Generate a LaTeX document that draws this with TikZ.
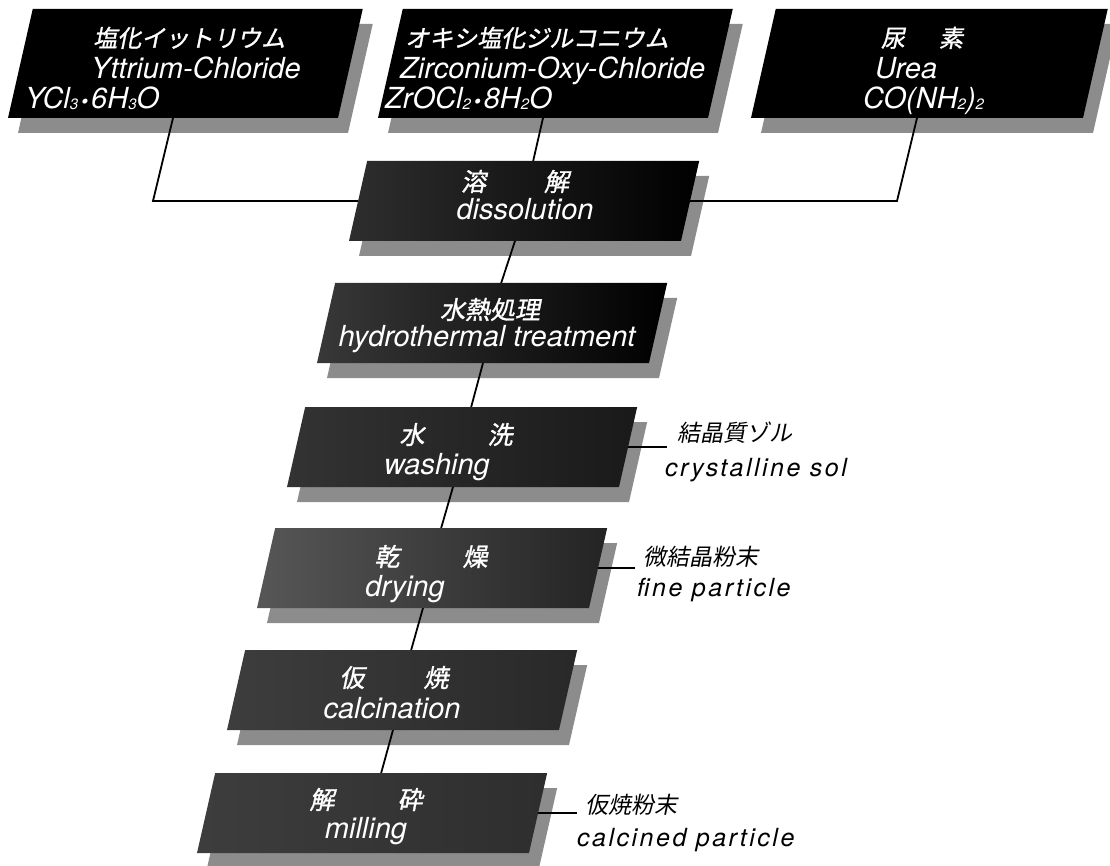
\documentclass[tikz,border=0pt]{standalone}
\usepackage{fontspec}
\setmainfont{TeX Gyre Heros}
\newfontfamily\jp[FakeSlant=0.2]{Noto Sans CJK JP}
\newfontfamily\jpb[FakeSlant=0.2,FakeBold=1.2]{Noto Sans CJK JP}
\newfontfamily\latsp[LetterSpace=10]{TeX Gyre Heros}
\newcommand\sbx[1]{\raisebox{-1pt}{\fontsize{15}{15}\selectfont #1}}
\newcommand\mdot{\hspace{3pt}{\fontsize{20}{20}\selectfont\textbullet}\hspace{3pt}}
\newcommand\defbox[5]{%
  \pgfmathsetmacro\slnt{0.227*#5}%
  \coordinate (#1-bl) at (#2,#3);
  \coordinate (#1-br) at (#2+#4,#3);
  \coordinate (#1-tr) at (#2+#4+\slnt,#3-#5);
  \coordinate (#1-tl) at (#2+\slnt,#3-#5);
  \coordinate (#1-b) at (#2+#4/2,#3);
  \coordinate (#1-t) at (#2+\slnt+#4/2,#3-#5);
  \coordinate (#1-l) at (#2+\slnt/2,#3-#5/2);
  \coordinate (#1-r) at (#2+#4+\slnt/2,#3-#5/2);
}
\begin{document}
\begin{tikzpicture}[x=1pt,y=-1pt,
  shadowc/.style={fill=black!45},
  conn/.style={draw=black, line width=1.8pt},
  lat/.style={font=\itshape\fontsize{29}{29}\selectfont, text=white, inner sep=0pt},
  jpt/.style={font=\jpb\fontsize{25}{25}\selectfont, text=white, inner sep=0pt},
  jtop/.style={font=\jpb\fontsize{24}{24}\selectfont, text=white, inner sep=0pt},
  slat/.style={font=\latsp\itshape\fontsize{25}{25}\selectfont, text=black, inner sep=0pt},
  sjp/.style={font=\jp\fontsize{23}{23}\selectfont, text=black, inner sep=0pt},
]
\useasboundingbox (0,0) rectangle (1110,866);

% box geometry (bottom-left x, bottom y, edge width, height)
\defbox{B1}{8}{118}{330}{109}
\defbox{B2}{378}{118}{330}{109}
\defbox{B3}{751}{118}{332}{109}
\defbox{D}{349}{241}{332}{80}
\defbox{H}{317}{363}{332}{80}
\defbox{W}{287}{487}{332}{80}
\defbox{Dr}{257}{608}{332}{80}
\defbox{C}{227}{730}{332}{80}
\defbox{M}{197}{853}{332}{80}

% shadows
\foreach \n in {B1,B2,B3,D,H,W,Dr,C,M}
  \fill[shadowc] ([shift={(10,15)}]\n-bl) -- ([shift={(10,15)}]\n-br)
     -- ([shift={(10,15)}]\n-tr) -- ([shift={(10,15)}]\n-tl) -- cycle;

% connectors
\coordinate (j1) at (153,201);
\coordinate (j3) at (897,201);
\coordinate (wl) at (667,447);
\coordinate (drl) at (635,568);
\coordinate (ml) at (577,813);
\draw[conn] (B1-b) -- (j1) -- (D-l);
\draw[conn] (B2-b) -- (D-t);
\draw[conn] (B3-b) -- (j3) -- (D-r);
\draw[conn] (D-b) -- (H-t);
\draw[conn] (H-b) -- (W-t);
\draw[conn] (W-b) -- (Dr-t);
\draw[conn] (Dr-b) -- (C-t);
\draw[conn] (C-b) -- (M-t);
\draw[conn] (W-r) -- (wl);
\draw[conn] (Dr-r) -- (drl);
\draw[conn] (M-r) -- (ml);

% boxes
\foreach \n in {B1,B2,B3}
  \fill[black] (\n-bl) -- (\n-br) -- (\n-tr) -- (\n-tl) -- cycle;
\shade[left color=black!82, middle color=black, right color=black] (D-bl) -- (D-br) -- (D-tr) -- (D-tl) -- cycle;
\shade[left color=black!78, middle color=black!94, right color=black] (H-bl) -- (H-br) -- (H-tr) -- (H-tl) -- cycle;
\shade[left color=black!80, middle color=black!68, right color=black!90] (W-bl) -- (W-br) -- (W-tr) -- (W-tl) -- cycle;
\shade[left color=black!66, middle color=black!72, right color=black!86] (Dr-bl) -- (Dr-br) -- (Dr-tr) -- (Dr-tl) -- cycle;
\shade[left color=black!76, middle color=black!74, right color=black!84] (C-bl) -- (C-br) -- (C-tr) -- (C-tl) -- cycle;
\shade[left color=black!76, middle color=black!74, right color=black!82] (M-bl) -- (M-br) -- (M-tr) -- (M-tl) -- cycle;

% texts top boxes
\node[jtop, anchor=base west] (n1a) at (93,47) {塩化イットリウム};
\node[lat, anchor=base west] (n1b) at (91,79) {Yttrium-Chloride};
\node[lat, anchor=base west] (n1c) at (25,109) {YCl\sbx{3}\mdot 6H\sbx{3}O};
\node[jtop, anchor=base west] (n2a) at (405,47) {オキシ塩化ジルコニウム};
\node[lat, anchor=base west] (n2b) at (400,79) {Zirconium-Oxy-Chloride};
\node[lat, anchor=base west] (n2c) at (385,109) {ZrOCl\sbx{2}\mdot 8H\sbx{2}O};
\node[jtop, anchor=base] (n3a) at (922,47) {尿\hspace{34pt}素};
\node[lat, anchor=base west] (n3b) at (875,79) {Urea};
\node[lat, anchor=base west] (n3c) at (863,109) {CO(NH\sbx{2})\sbx{2}};

% texts process boxes
\node[jpt, anchor=base] (nDa) at (515,191) {溶\hspace{58pt}解};
\node[lat, anchor=base] (nDb) at (525,220) {dissolution};
\node[jpt, anchor=base] (nHa) at (490,319) {水熱処理};
\node[lat, anchor=base] (nHb) at (487,346) {hydrothermal treatment};
\node[jpt, anchor=base] (nWa) at (456,444) {水\hspace{63pt}洗};
\node[lat, anchor=base] (nWb) at (437,474) {washing};
\node[jpt, anchor=base] (nDra) at (431,566) {乾\hspace{63pt}燥};
\node[lat, anchor=base] (nDrb) at (405,596) {drying};
\node[jpt, anchor=base] (nCa) at (394,687) {仮\hspace{59pt}焼};
\node[lat, anchor=base] (nCb) at (392,718) {calcination};
\node[jpt, anchor=base] (nMa) at (366,809) {解\hspace{63pt}砕};
\node[lat, anchor=base] (nMb) at (366,838) {milling};

% side labels
\node[sjp, anchor=base west] (sWa) at (677,441) {結晶質ゾル};
\node[slat, anchor=base west] (sWb) at (665,476) {crystalline sol};
\node[sjp, anchor=base west] (sDa) at (643,565) {微結晶粉末};
\node[slat, anchor=base west] (sDb) at (637,596) {fine particle};
\node[sjp, anchor=base west] (sMa) at (585,813) {仮焼粉末};
\node[slat, anchor=base west] (sMb) at (577,846) {calcined particle};
\end{tikzpicture}
\end{document}
